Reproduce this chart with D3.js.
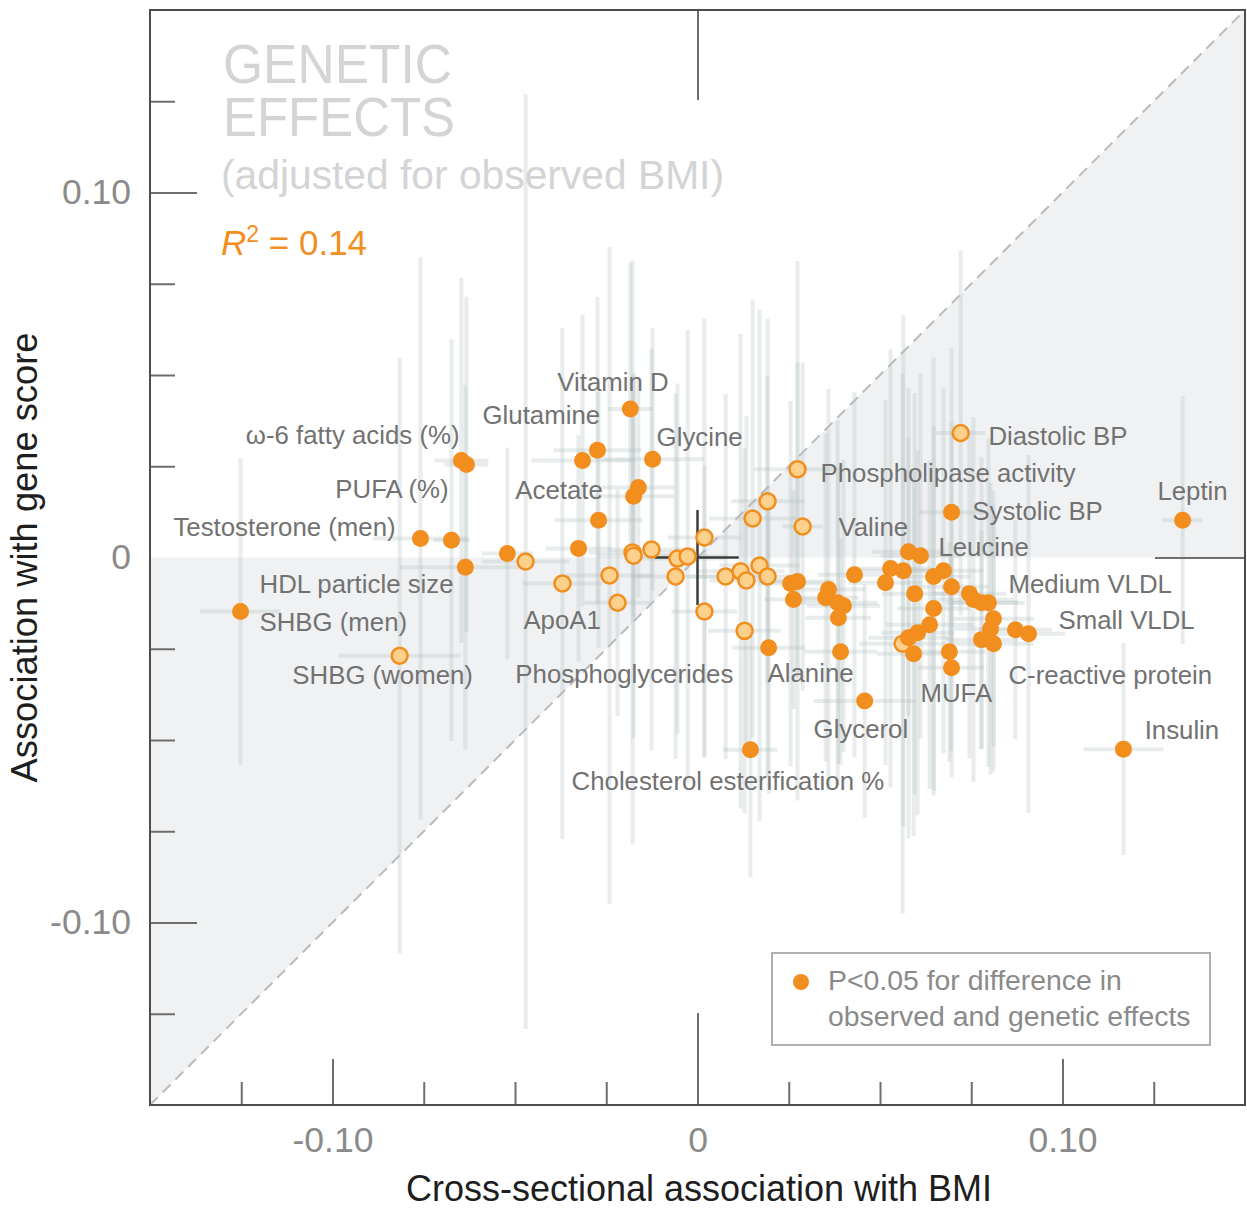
<!DOCTYPE html>
<html><head><meta charset="utf-8">
<script src="https://cdn.jsdelivr.net/npm/d3@7"></script>
<style>
body{margin:0;background:#fff}
svg{display:block}
text{font-family:"Liberation Sans",Arial,Helvetica,sans-serif}
</style>
</head><body>
<svg id="chart" width="1247" height="1210"></svg>
<script>
// ---- data (x: cross-sectional association with BMI, y: association with gene score) ----
const pointX = [-0.1252,-0.0816,-0.0759,-0.0674,-0.0647,-0.0633,-0.0636,-0.0521,-0.0471,-0.0370,
  -0.0326,-0.0315,-0.0274,-0.0271,-0.0241,-0.0219,-0.0184,-0.0162,-0.0175,-0.0123,
  -0.0178,-0.0175,-0.0126,-0.0055,-0.0027,-0.0060,0.0019,0.0019,0.0077,0.0118,
  0.0134,0.0170,0.0192,0.0151,0.0192,0.0274,0.0288,0.0129,0.0195,0.0145,
  0.0721,0.0696,0.1329,0.1167,0.0458,0.0907,0.0871,0.0255,0.0274,0.0263,
  0.0359,0.0351,0.0384,0.0400,0.0386,0.0392,0.0430,0.0529,0.0515,0.0564,
  0.0578,0.0611,0.0595,0.0647,0.0674,0.0696,0.0647,0.0636,0.0603,0.0578,
  0.0562,0.0592,0.0690,0.0696,0.0745,0.0756,0.0778,0.0797,0.0811,0.0803,
  0.0778,0.0811];
const pointY = [-0.0148,-0.0269,0.0052,0.0047,0.0266,0.0255,-0.0027,0.0011,-0.0011,-0.0071,
  0.0025,0.0266,0.0294,0.0102,-0.0049,-0.0124,0.0407,0.0192,0.0168,0.0269,
  0.0014,0.0005,0.0022,-0.0003,0.0003,-0.0052,0.0055,-0.0148,-0.0052,-0.0038,
  -0.0063,-0.0022,-0.0052,0.0107,0.0154,0.0242,0.0085,-0.0201,-0.0247,-0.0527,
  0.0341,0.0124,0.0102,-0.0525,-0.0393,-0.0209,-0.0198,-0.0071,-0.0066,-0.0115,
  -0.0088,-0.0110,-0.0124,-0.0132,-0.0165,-0.0258,-0.0047,-0.0030,-0.0069,-0.0036,
  0.0016,0.0005,-0.0099,-0.0052,-0.0036,-0.0080,-0.0140,-0.0184,-0.0206,-0.0220,
  -0.0236,-0.0264,-0.0258,-0.0302,-0.0099,-0.0115,-0.0124,-0.0124,-0.0168,-0.0195,
  -0.0225,-0.0236];
const pointXErr = [0.011,0.0167,0.013,0.005,0.0074,0.006,0.018,0.007,0.012,0.011,
  0.009,0.014,0.012,0.012,0.012,0.009,0.006,0.010,0.011,0.014,
  0.012,0.010,0.012,0.013,0.011,0.012,0.010,0.009,0.010,0.012,
  0.010,0.011,0.009,0.012,0.010,0.012,0.0055,0.010,0.010,0.0074,
  0.0068,0.009,0.0055,0.011,0.014,0.010,0.010,0.009,0.010,0.008,
  0.010,0.009,0.011,0.010,0.009,0.010,0.010,0.011,0.010,0.012,
  0.010,0.011,0.009,0.010,0.011,0.010,0.010,0.012,0.010,0.011,
  0.012,0.010,0.010,0.009,0.010,0.011,0.010,0.010,0.011,0.010,
  0.010,0.011];
const pointYErr = [0.042,0.0816,0.077,0.055,0.050,0.046,0.050,0.029,0.128,0.070,
  0.031,0.040,0.042,0.035,0.090,0.031,0.040,0.030,0.033,0.036,
  0.080,0.050,0.055,0.048,0.062,0.050,0.060,0.040,0.050,0.065,
  0.045,0.070,0.055,0.060,0.050,0.057,0.045,0.050,0.040,0.035,
  0.050,0.045,0.034,0.029,0.032,0.049,0.030,0.050,0.060,0.030,
  0.055,0.045,0.050,0.040,0.040,0.031,0.050,0.060,0.050,0.070,
  0.045,0.050,0.055,0.060,0.050,0.045,0.050,0.045,0.050,0.055,
  0.074,0.050,0.030,0.030,0.045,0.050,0.040,0.045,0.035,0.040,
  0.030,0.035];
const pointSig = [1,0,1,1,1,1,1,1,0,0,
  1,1,1,1,0,0,1,1,1,1,
  0,0,0,0,0,0,0,0,0,0,
  0,0,0,0,0,0,0,0,1,1,
  0,1,1,1,1,1,1,1,1,1,
  1,1,1,1,1,1,1,1,1,1,
  1,1,1,1,1,1,1,1,1,1,
  0,1,1,1,1,1,1,1,1,1,
  1,1];

const labelText = ["Vitamin D","Glutamine","\u03c9-6 fatty acids (%)","Glycine","Diastolic BP",
  "Phospholipase activity","PUFA (%)","Acetate","Leptin","Systolic BP",
  "Testosterone (men)","Valine","Leucine","HDL particle size","Medium VLDL",
  "SHBG (men)","ApoA1","Small VLDL","SHBG (women)","Phosphoglycerides",
  "Alanine","C-reactive protein","MUFA","Glycerol","Insulin","Cholesterol esterification %"];
const labelX = [-0.0384,-0.0589,-0.0652,-0.0112,0.0797,
  0.0337,-0.0682,-0.0499,0.1260,0.0753,
  -0.0827,0.0386,0.0660,-0.1200,0.0852,
  -0.1200,-0.0477,0.0989,-0.1110,-0.0499,
  0.0192,0.0852,0.0611,0.0318,0.1225,-0.0345];
const labelY = [0.0456,0.0365,0.0310,0.0305,0.0308,
  0.0206,0.0162,0.0159,0.0157,0.0104,
  0.0060,0.0060,0.0003,-0.0096,-0.0096,
  -0.0201,-0.0195,-0.0195,-0.0346,-0.0343,
  -0.0341,-0.0346,-0.0396,-0.0495,-0.0497,-0.0637];
const labelAnchor = ["start","start","end","start","start",
  "start","end","start","start","start",
  "end","start","start","start","start",
  "start","start","start","start","start",
  "start","start","start","start","start","start"];

const minorTicks = [-0.125,-0.075,-0.05,-0.025,0.025,0.05,0.075,0.125];
const majorTicks = [-0.1,0.1];
const labelTicks = [-0.1,0,0.1];
const tickLabels = ["-0.10","0","0.10"];

// ---- chart ----
const svg = d3.select("#chart");
const x = d3.scaleLinear().domain([-0.15,0.15]).range([150,1245]);
const y = d3.scaleLinear().domain([-0.15,0.15]).range([1105,10]);

const ORANGE = "#f28e1e", LIGHT = "#fdd08c";

svg.append("rect").attr("width",1247).attr("height",1210).attr("fill","#fff");

svg.append("defs").append("clipPath").attr("id","plot")
  .append("rect").attr("x",x(-0.15)).attr("y",y(0.15))
  .attr("width",x(0.15)-x(-0.15)).attr("height",y(-0.15)-y(0.15));

const plot = svg.append("g").attr("clip-path","url(#plot)");

// shaded triangles
const tri = [[[-0.15,0],[0,0],[-0.15,-0.15]],[[0,0],[0.15,0],[0.15,0.15]]];
plot.selectAll("path.tri").data(tri).join("path")
  .attr("d",d=>d3.line().x(p=>x(p[0])).y(p=>y(p[1]))(d)+"Z")
  .attr("fill","#f0f1f3");

// diagonal
plot.append("line").attr("x1",x(-0.15)).attr("y1",y(-0.15)).attr("x2",x(0.15)).attr("y2",y(0.15))
  .attr("stroke","#b9bbbd").attr("stroke-width",2).attr("stroke-dasharray","11,7");

const pts = pointX.map((v,i)=>({x:v,y:pointY[i],xe:pointXErr[i],ye:pointYErr[i],sig:pointSig[i]}));

// error bars
const eb = plot.append("g").attr("stroke","rgb(178,192,192)").attr("stroke-opacity",0.3).attr("stroke-width",4);
eb.selectAll("line.v").data(pts).join("line")
  .attr("x1",d=>x(d.x)).attr("x2",d=>x(d.x)).attr("y1",d=>y(d.y-d.ye)).attr("y2",d=>y(d.y+d.ye));
eb.selectAll("line.h").data(pts).join("line")
  .attr("y1",d=>y(d.y)).attr("y2",d=>y(d.y)).attr("x1",d=>x(d.x-d.xe)).attr("x2",d=>x(d.x+d.xe));

// crosshair at origin
const ch = svg.append("g").attr("stroke","#3c3c3c").attr("stroke-width",2.5);
ch.append("line").attr("x1",x(0)).attr("x2",x(0)).attr("y1",y(0.013)).attr("y2",y(-0.013));
ch.append("line").attr("x1",x(-0.0117)).attr("x2",x(0.0113)).attr("y1",y(0)).attr("y2",y(0));

// points
const ordered = pts.filter(d=>!d.sig).concat(pts.filter(d=>d.sig));
svg.append("g").selectAll("circle").data(ordered).join("circle")
  .attr("cx",d=>x(d.x)).attr("cy",d=>y(d.y))
  .attr("r",d=>d.sig?8.5:8)
  .attr("fill",d=>d.sig?ORANGE:LIGHT)
  .attr("stroke",d=>d.sig?"none":ORANGE).attr("stroke-width",2.5);

// point labels
svg.append("g").selectAll("text").data(labelText).join("text")
  .attr("x",(d,i)=>x(labelX[i])).attr("y",(d,i)=>y(labelY[i]))
  .attr("text-anchor",(d,i)=>labelAnchor[i])
  .attr("font-size",25.8).attr("fill","#727272").text(d=>d);

// title block
const tcol = "#d3d4d6";
const tt = svg.append("text").attr("font-size",56).attr("fill",tcol);
tt.append("tspan").attr("x",223).attr("y",83)
  .attr("textLength",229).attr("lengthAdjust","spacingAndGlyphs").text("GENETIC");
tt.append("tspan").attr("x",223).attr("y",136)
  .attr("textLength",232).attr("lengthAdjust","spacingAndGlyphs").text("EFFECTS");
svg.append("text").attr("x",221).attr("y",189).attr("font-size",40.5).attr("fill",tcol)
  .attr("textLength",503).attr("lengthAdjust","spacingAndGlyphs")
  .text("(adjusted for observed BMI)");
const r2 = svg.append("text").attr("x",221).attr("y",255).attr("font-size",35).attr("fill",ORANGE);
r2.append("tspan").attr("font-style","italic").text("R");
r2.append("tspan").attr("font-size",23).attr("dy",-13).text("2");
r2.append("tspan").attr("dy",13).text(" = 0.14");

// legend
const lg = svg.append("g");
lg.append("rect").attr("x",772).attr("y",953).attr("width",438).attr("height",92)
  .attr("fill","#fff").attr("stroke","#b0b0b0").attr("stroke-width",2);
lg.append("circle").attr("cx",801).attr("cy",982).attr("r",8).attr("fill",ORANGE);
lg.append("text").attr("x",828).attr("y",990).attr("font-size",28.4).attr("fill","#8a8a8a").text("P<0.05 for difference in");
lg.append("text").attr("x",828).attr("y",1026).attr("font-size",28.4).attr("fill","#8a8a8a").text("observed and genetic effects");

// axes ticks
function styleAxis(g){
  g.select(".domain").remove();
  g.selectAll(".tick line").attr("stroke","#6e6e6e").attr("stroke-width",2);
  g.selectAll(".tick text").attr("fill","#8a8a8a").attr("font-size",35.5)
    .attr("font-family","'Liberation Sans',Arial,sans-serif");
}
// left
svg.append("g").attr("transform",`translate(${x(-0.15)},0)`)
  .call(d3.axisRight(y).tickValues(minorTicks).tickSize(25).tickFormat("")).call(styleAxis);
svg.append("g").attr("transform",`translate(${x(-0.15)},0)`)
  .call(d3.axisRight(y).tickValues(majorTicks).tickSize(47).tickFormat("")).call(styleAxis);
svg.append("g").attr("transform",`translate(${x(-0.15)},0)`)
  .call(d3.axisLeft(y).tickValues(labelTicks).tickSize(0).tickPadding(19)
    .tickFormat((d,i)=>tickLabels[i])).call(styleAxis);
// bottom
svg.append("g").attr("transform",`translate(0,${y(-0.15)})`)
  .call(d3.axisTop(x).tickValues(minorTicks).tickSize(23).tickFormat("")).call(styleAxis);
svg.append("g").attr("transform",`translate(0,${y(-0.15)})`)
  .call(d3.axisTop(x).tickValues(majorTicks).tickSize(46).tickFormat("")).call(styleAxis);
svg.append("g").attr("transform",`translate(0,${y(-0.15)})`)
  .call(d3.axisTop(x).tickValues([0]).tickSize(92).tickFormat("")).call(styleAxis);
svg.append("g").attr("transform",`translate(0,${y(-0.15)})`)
  .call(d3.axisBottom(x).tickValues(labelTicks).tickSize(0).tickPadding(22)
    .tickFormat((d,i)=>tickLabels[i])).call(styleAxis);
// top and right zero ticks
svg.append("g").attr("transform",`translate(0,${y(0.15)})`)
  .call(d3.axisBottom(x).tickValues([0]).tickSize(90).tickFormat("")).call(styleAxis);
svg.append("g").attr("transform",`translate(${x(0.15)},0)`)
  .call(d3.axisLeft(y).tickValues([0]).tickSize(90).tickFormat("")).call(styleAxis);

// frame
svg.append("rect").attr("x",x(-0.15)).attr("y",y(0.15))
  .attr("width",x(0.15)-x(-0.15)).attr("height",y(-0.15)-y(0.15))
  .attr("fill","none").attr("stroke","#4d4d4d").attr("stroke-width",2);

// axis titles
svg.append("text").attr("x",699).attr("y",1201).attr("text-anchor","middle")
  .attr("font-size",36).attr("fill","#1e1e1e").text("Cross-sectional association with BMI");
svg.append("text").attr("transform",`translate(37,${y(0)}) rotate(-90)`).attr("text-anchor","middle")
  .attr("font-size",36.3).attr("fill","#1e1e1e").text("Association with gene score");
</script>
</body></html>
